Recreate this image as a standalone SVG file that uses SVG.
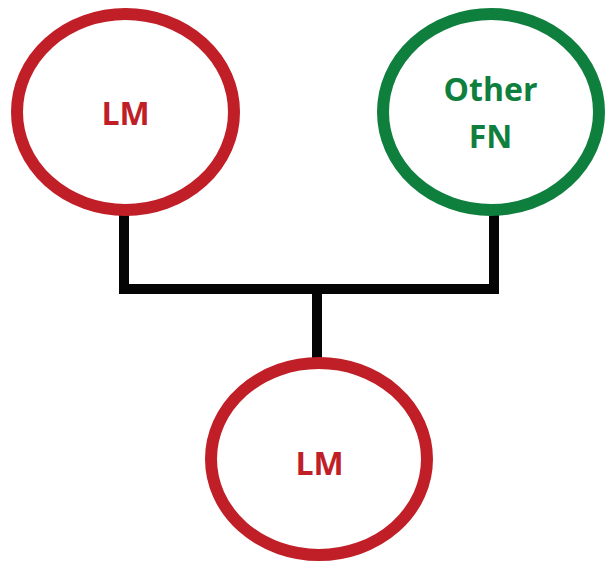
<svg xmlns="http://www.w3.org/2000/svg" width="606" height="562" viewBox="0 0 606 562">
<style>
.node{fill:#fff;stroke-width:12}
.red{stroke:#C01F28}
.green{stroke:#0F7F3E}
.lbl{font-family:"Open Sans","Liberation Sans",sans-serif;font-weight:bold;font-size:32px;text-anchor:middle}
.conn{fill:none;stroke:#050505;stroke-width:10;stroke-linecap:butt}
</style>
<rect width="606" height="562" fill="#fff"/>
<g id="connectors">
<path class="conn" d="M124 214 V294"/>
<path class="conn" d="M494 214 V294"/>
<path class="conn" d="M119 289 H499"/>
<path class="conn" d="M317 289 V360"/>
</g>
<g id="lm-top">
<ellipse class="node red" cx="125.5" cy="112" rx="108.5" ry="98"/>
<text class="lbl" x="125.5" y="125" fill="#C01F28">LM</text>
</g>
<g id="other-fn">
<ellipse class="node green" cx="491" cy="112" rx="108" ry="98"/>
<text class="lbl" x="490.5" y="101" fill="#0F7F3E">Other</text>
<text class="lbl" x="490.5" y="148" fill="#0F7F3E">FN</text>
</g>
<g id="lm-bottom">
<ellipse class="node red" cx="319" cy="459" rx="108" ry="96"/>
<text class="lbl" x="319.5" y="475" fill="#C01F28">LM</text>
</g>
</svg>
